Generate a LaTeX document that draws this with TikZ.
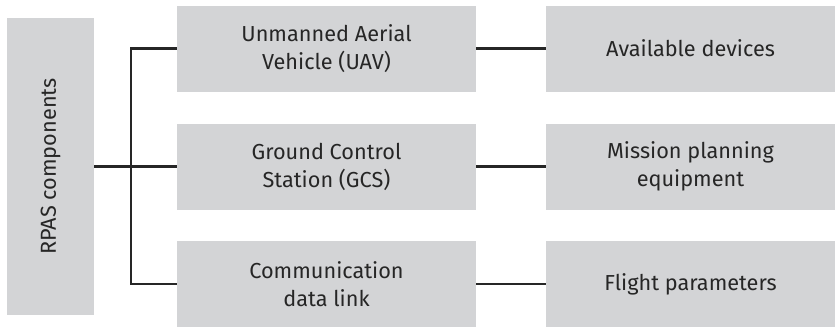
\documentclass[tikz,border=0pt]{standalone}
\usepackage{fontspec}
\setmainfont{Fira Sans}
\definecolor{boxgray}{HTML}{D3D4D6}
\definecolor{txt}{HTML}{262626}
\begin{document}
\begin{tikzpicture}[x=1pt,y=-1pt,
  box/.style={fill=boxgray, draw=none, text=txt, align=center, inner sep=0pt,
    font=\fontsize{21.7}{28}\selectfont},
  midbox/.style={box, minimum width=299pt, minimum height=86pt},
  rightbox/.style={box, minimum width=289pt, minimum height=86pt},
  conn/.style={draw=black!85, line width=2.5pt}]
\useasboundingbox (0,0) rectangle (835,327);
\node[box, minimum width=87pt, minimum height=297pt] (rpas) at (50.5,166.5) {};
\node[text=txt, rotate=90, font=\fontsize{21.7}{28}\selectfont] (rpaslabel) at (rpas.center) {RPAS components};
\node[midbox] (uav) at (326.5,48.5) {Unmanned Aerial\\Vehicle (UAV)};
\node[midbox] (gcs) at (326.5,166.5) {Ground Control\\Station (GCS)};
\node[midbox] (cdl) at (326.5,284) {Communication\\data link};
\node[rightbox] (dev) at (690.5,48.5) {Available devices};
\node[rightbox] (mpe) at (690.5,166.5) {Mission planning\\equipment};
\node[rightbox] (fp) at (690.5,284) {Flight parameters};
\coordinate (jt) at (131,48.5);
\coordinate (jm) at (131,166.5);
\coordinate (jb) at (131,284);
\draw[conn] (rpas.east) -- (jm);
\draw[conn, line cap=rect] (jt) -- (jb);
\draw[conn] (jt) -- (uav.west);
\draw[conn] (jm) -- (gcs.west);
\draw[conn] (jb) -- (cdl.west);
\draw[conn] (uav.east) -- (dev.west);
\draw[conn] (gcs.east) -- (mpe.west);
\draw[conn] (cdl.east) -- (fp.west);
\end{tikzpicture}
\end{document}
